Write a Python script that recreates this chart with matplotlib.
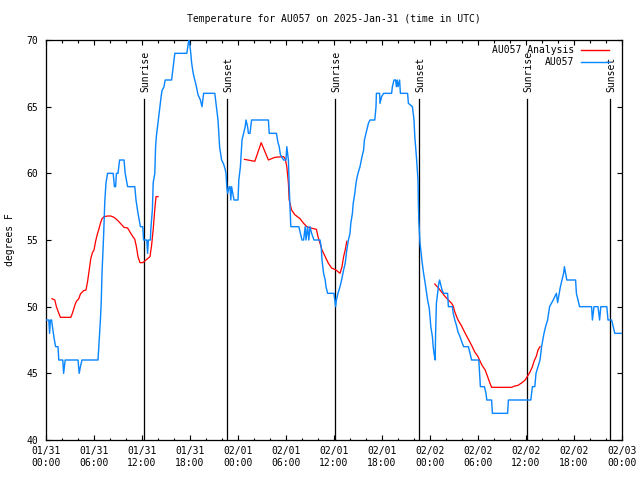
import numpy as np
import matplotlib
matplotlib.use("Agg")
import matplotlib.pyplot as plt

# ---------------- data (hours since 2025-01-31 00:00 UTC) ----------------
obs_hours = [0.0, 0.35, 0.45, 0.55, 0.7, 0.85, 1.05, 1.2, 1.5, 1.6, 2.1, 2.2, 2.3, 2.4,
             4.0, 4.15, 4.3, 4.5, 6.5, 6.6, 6.8, 6.9, 7.0, 7.2, 7.35, 7.5, 7.7, 8.4,
             8.55, 8.7, 8.8, 9.0, 9.2, 9.75, 9.9, 10.2, 11.1, 11.25, 11.5, 11.8, 12.1,
             12.2, 12.6, 12.7, 12.8, 13.05, 13.1, 13.3, 13.4, 13.6, 13.7, 13.8, 14.0,
             14.25, 14.4, 14.5, 14.75, 14.9, 15.7, 15.9, 16.1, 17.6, 17.8, 17.9, 18.1,
             18.2, 18.4, 18.6, 18.8, 19.0, 19.3, 19.5, 19.7, 21.1, 21.3, 21.5, 21.7,
             21.95, 22.2, 22.4, 22.5, 22.6, 22.7, 22.9, 23.0, 23.1, 23.2, 23.35, 23.5,
             24.0, 24.1, 24.3, 24.4, 24.5, 24.7, 24.9, 25.0, 25.2, 25.3, 25.5, 25.6,
             25.7, 27.8, 27.9, 28.8, 29.0, 29.15, 29.3, 29.7, 30.0, 30.1, 30.3, 30.4,
             30.5, 30.6, 31.6, 31.8, 32.0, 32.2, 32.4, 32.5, 32.7, 32.85, 33.0, 33.2,
             33.5, 34.25, 34.4, 34.5, 34.7, 34.9, 35.0, 35.2, 36.0, 36.1, 36.2, 36.3,
             36.5, 36.75, 36.95, 37.2, 37.4, 37.6, 37.8, 38.0, 38.1, 38.3, 38.4, 38.6,
             38.75, 38.9, 39.0, 39.25, 39.5, 39.7, 39.8, 40.0, 40.2, 40.3, 40.5, 41.1,
             41.25, 41.3, 41.7, 41.75, 41.95, 42.2, 43.2, 43.3, 43.5, 43.7, 43.8, 43.9,
             44.0, 44.2, 44.3, 45.2, 45.3, 45.8, 46.0, 46.1, 46.3, 46.5, 46.55, 46.6,
             46.75, 46.9, 47.0, 47.2, 47.4, 47.7, 47.9, 48.0, 48.1, 48.3, 48.4, 48.5,
             48.65, 48.7, 48.8, 48.95, 49.1, 49.2, 49.3, 49.5, 49.7, 50.2, 50.3, 50.8,
             50.9, 51.1, 51.3, 51.5, 51.75, 51.95, 52.2, 52.8, 53.0, 53.2, 54.1, 54.2,
             54.3, 54.8, 55.0, 55.1, 55.7, 55.8, 57.7, 57.8, 60.6, 60.8, 61.1, 61.25,
             61.5, 61.75, 61.95, 62.25, 62.45, 62.7, 62.95, 63.4, 63.8, 63.95, 64.15,
             64.3, 64.5, 64.7, 64.8, 64.95, 65.1, 66.2, 66.3, 66.5, 66.7, 68.2, 68.3,
             68.5, 69.0, 69.2, 69.35, 70.1, 70.25, 70.7, 70.9, 71.1, 72.0]
obs_temp = [49, 49, 48, 49, 49, 48.3, 47.5, 47, 47, 46, 46, 45, 45.5, 46,
            46, 45, 45.5, 46, 46, 47, 49, 50.3, 52.5, 55.3, 57.9, 59.3, 60, 60,
            59, 59, 60, 60, 61, 61, 60, 59, 59, 58, 57, 56, 56,
            55, 55, 54, 55, 55, 55.8, 57.3, 59.3, 60, 62, 62.8, 63.8,
            65, 65.8, 66.2, 66.5, 67, 67, 68, 69, 69, 69.8, 70, 69,
            68.3, 67.5, 67, 66.5, 65.9, 65.5, 65, 66, 66, 65, 64, 62,
            61, 60.7, 60.3, 60, 59, 58.5, 59, 59, 58, 59, 58.5, 58,
            58, 59.5, 60.5, 61.5, 62.5, 63, 63.5, 64, 63.5, 63, 63, 63.5,
            64, 64, 63, 63, 62.3, 62, 61.4, 61, 61, 62, 61, 59,
            57.5, 56, 56, 55.5, 55, 55, 56, 55, 56, 55, 56, 55.5,
            55, 55, 54.5, 53.5, 52.5, 52, 51.5, 51, 51, 50.5, 50, 50.5,
            51, 51.5, 52, 52.75, 53.25, 54.25, 55, 55.5, 56.25, 57, 57.75, 58.5,
            59.25, 59.75, 60, 60.5, 61.25, 61.75, 62.5, 63, 63.5, 63.75, 64, 64,
            65, 66, 66, 65.25, 65.75, 66, 66, 66.5, 67, 67, 66.5, 67,
            66.5, 67, 66, 66, 65.25, 65, 64, 62.75, 61.25, 59.5, 57.75, 56.5,
            54.75, 54, 53.4, 52.5, 51.75, 50.5, 49.9, 49.25, 48.5, 47.75, 47, 46.5,
            46, 48, 50.25, 51, 51.75, 52, 51.75, 51.25, 51, 51, 50, 50,
            49.5, 49, 48.6, 48.1, 47.75, 47.4, 47, 47, 46.5, 46, 46, 45,
            44, 44, 43.5, 43, 43, 42, 42, 43, 43, 44, 44, 45,
            45.5, 46, 47, 48, 48.5, 49, 50, 50.5, 51, 50.3, 51,
            51.5, 52, 52.5, 53, 52.5, 52, 52, 51, 50.5, 50, 50, 49,
            50, 50, 49, 50, 50, 49, 49, 48.5, 48, 48]

ana_hours = [0.75, 1.1, 1.3, 1.6, 1.8, 3.1, 3.3, 3.6, 3.8, 4.1, 4.3, 4.7, 5.0, 5.2,
             5.4, 5.6, 5.8, 6.0, 6.2, 6.4, 6.6, 6.8, 7.0, 7.25, 7.7, 8.1, 8.5, 8.9,
             9.3, 9.75, 10.2, 10.5, 10.8, 11.1, 11.3, 11.5, 11.75, 12.1, 12.3, 12.7,
             13.0, 13.2, 13.4, 13.6, 13.75, 14.0,
             np.nan,
             24.8, 26.1, 26.9, 27.8, 28.6, 29.7, 29.9, 30.1, 30.3, 30.4, 30.7, 31.1,
             31.75, 32.2, 32.6, 33.1, 33.8, 34.0, 34.5, 34.9, 35.3, 35.7, 36.25, 36.75,
             37.0, 37.2, 37.4, 37.6,
             np.nan,
             48.6, 49.05, 49.25, 49.9, 50.3, 50.7, 50.9, 51.1, 51.5, 51.95, 52.4, 52.8,
             53.2, 53.6, 54.0, 54.5, 54.9, 55.2, 55.5, 55.7, 58.2, 58.6, 59.0, 59.5,
             59.9, 60.1, 60.5, 60.8, 61.0, 61.3, 61.5, 61.75]
ana_temp = [50.6, 50.5, 50.0, 49.5, 49.2, 49.2, 49.5, 50.1, 50.4, 50.6, 50.95, 51.2, 51.25, 51.9,
            52.75, 53.6, 54.05, 54.25, 54.9, 55.4, 55.8, 56.25, 56.6, 56.75, 56.8, 56.8, 56.7, 56.5,
            56.25, 55.95, 55.9, 55.6, 55.3, 55.05, 54.5, 53.75, 53.3, 53.3, 53.4, 53.6,
            53.75, 54.6, 55.8, 57.3, 58.25, 58.25,
            np.nan,
            61.05, 60.9, 62.3, 61.0, 61.2, 61.25, 61.1, 60.5, 59.25, 58.0, 57.25, 56.9,
            56.6, 56.25, 56.0, 55.9, 55.8, 55.25, 54.25, 53.75, 53.25, 52.9, 52.75, 52.5,
            53.0, 53.75, 54.25, 54.9,
            np.nan,
            51.7, 51.4, 51.25, 50.75, 50.5, 50.25, 50.05, 49.6, 49.0, 48.55, 48.0, 47.55,
            47.1, 46.6, 46.25, 45.6, 45.25, 44.75, 44.25, 43.95, 43.95, 44.05, 44.1, 44.3,
            44.5, 44.7, 45.1, 45.5, 45.9, 46.3, 46.75, 47.0]

sun_hours = [12.3, 22.67, 36.17, 46.67, 60.13, 70.54]
sun_labels = ["Sunrise", "Sunset", "Sunrise", "Sunset", "Sunrise", "Sunset"]

xtick_hours = [0, 6, 12, 18, 24, 30, 36, 42, 48, 54, 60, 66, 72]
xtick_labels = ["01/31\n00:00", "01/31\n06:00", "01/31\n12:00", "01/31\n18:00",
                "02/01\n00:00", "02/01\n06:00", "02/01\n12:00", "02/01\n18:00",
                "02/02\n00:00", "02/02\n06:00", "02/02\n12:00", "02/02\n18:00",
                "02/03\n00:00"]
ytick_values = [40, 45, 50, 55, 60, 65, 70]

title = "Temperature for AU057 on 2025-Jan-31 (time in UTC)"
ylabel = "degrees F"
series_names = ["AU057 Analysis", "AU057"]

# ---------------- style ----------------
FONT = "DejaVu Sans Mono"
FS = 7
plt.rcParams["font.family"] = FONT
plt.rcParams["font.size"] = FS
RED = "#ff0000"
BLUE = "#0a86ff"
PX = 0.72  # one pixel in points at dpi 100

fig = plt.figure(figsize=(6.4, 4.8), dpi=100)
ax = fig.add_axes([46 / 640, 40 / 480, 576 / 640, 400 / 480])

ax.set_xlim(0, 72)
ax.set_ylim(40, 70)

# sunrise / sunset markers
for h, lab in zip(sun_hours, sun_labels):
    ax.plot([h, h], [40, 65.55], color="black", lw=1.0 * PX + 0.2, zorder=2)
    ax.text(h + 0.15, 66.1, lab, rotation=90, ha="center", va="bottom",
            fontsize=FS, color="black", zorder=2)

ax.plot(ana_hours, ana_temp, color=RED, lw=PX + 0.2, zorder=3)
ax.plot(obs_hours, obs_temp, color=BLUE, lw=PX + 0.3, zorder=4)

# ticks
ax.set_xticks(xtick_hours)
ax.set_xticklabels(xtick_labels, linespacing=1.25)
ax.set_xticks(np.arange(0, 73, 2), minor=True)
ax.set_yticks(ytick_values)
ax.set_yticklabels([str(v) for v in ytick_values])
ax.tick_params(which="both", direction="in", top=True, right=True, width=PX + 0.1)
ax.tick_params(which="major", length=3.6)
ax.tick_params(which="minor", length=1.8)
ax.tick_params(axis="x", which="major", pad=4)
ax.tick_params(axis="y", which="major", pad=5.5)
for sp in ax.spines.values():
    sp.set_linewidth(PX + 0.2)

# legend (manual, gnuplot-like)
leg_rows = [(0.975, RED, series_names[0]), (0.94375, BLUE, series_names[1])]
for y, c, name in leg_rows:
    ax.text(0.9167, y, name, transform=ax.transAxes, ha="right", va="center",
            fontsize=FS, zorder=5)
    ax.plot([0.9288, 0.9774], [y, y], transform=ax.transAxes, color=c,
            lw=PX + 0.3, clip_on=False, zorder=5)

fig.text(334 / 640, 1 - 19 / 480, title, ha="center", va="center", fontsize=FS)
fig.text(10 / 640, 0.5, ylabel, rotation=90, ha="center", va="center", fontsize=FS)

fig.savefig("out.png", dpi=100)
